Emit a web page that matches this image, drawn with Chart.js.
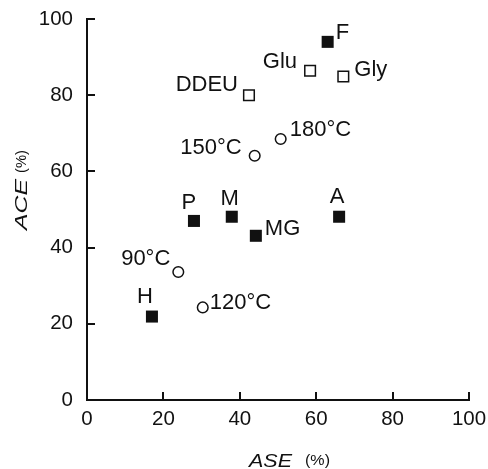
<!DOCTYPE html>
<html>
<head>
<meta charset="utf-8">
<script src="https://cdn.jsdelivr.net/npm/chart.js@4"></script>
<style>
html, body { margin: 0; padding: 0; background: #fff; }
#wrap { width: 488px; height: 469px; }
</style>
</head>
<body>
<div id="wrap"><canvas id="chart"></canvas></div>
<script>
// reagents / treatments, ASE (x) and ACE (y) in %
const filledNames = ['F', 'P', 'M', 'MG', 'A', 'H'];
const filledASE = [63.0, 28.0, 37.9, 44.2, 66.0, 17.0];
const filledACE = [94.0, 47.0, 48.1, 43.1, 48.1, 21.9];

const openNames = ['Glu', 'Gly', 'DDEU'];
const openASE = [58.4, 67.1, 42.4];
const openACE = [86.4, 84.9, 80.0];

const tempNames = ['90°C', '120°C', '150°C', '180°C'];
const tempASE = [23.9, 30.3, 43.9, 50.7];
const tempACE = [33.6, 24.3, 64.1, 68.5];

const axisTicks = [0, 20, 40, 60, 80, 100];

// where each point label sits relative to its marker: [align, dx, dy]
const labelPlace = {
    'F': ['left', 8, -9], 'P': ['center', -5, -18], 'M': ['center', -2, -18],
    'MG': ['left', 9, -7], 'A': ['center', -2, -20], 'H': ['center', -7, -20],
    'Glu': ['right', -13, -9], 'Gly': ['left', 11, -7], 'DDEU': ['right', -11, -10],
    '90°C': ['right', -8, -13], '120°C': ['left', 7, -4],
    '150°C': ['right', -13, -8], '180°C': ['left', 9, -9],
};

const ink = '#111';
const fontName = '"Liberation Sans", Arial, sans-serif';

function toPoints(xs, ys) {
    return xs.map((x, i) => ({ x: x, y: ys[i] }));
}

// text squeezed/stretched to a given width
function fitText(ctx, text, x, y, width) {
    const w = ctx.measureText(text).width;
    ctx.save();
    ctx.translate(x, y);
    ctx.scale(width / w, 1);
    ctx.fillText(text, 0, 0);
    ctx.restore();
}

const extras = {
    id: 'extras',
    afterDraw(chart) {
        const ctx = chart.ctx;
        const xs = chart.scales.x, ys = chart.scales.y;
        const area = chart.chartArea;
        ctx.save();
        // inward tick marks
        ctx.strokeStyle = ink;
        ctx.lineWidth = 2;
        ctx.beginPath();
        axisTicks.forEach(v => {
            const px = Math.round(xs.getPixelForValue(v));
            ctx.moveTo(px, area.bottom);
            ctx.lineTo(px, area.bottom - 8);
            const py = Math.round(ys.getPixelForValue(v));
            ctx.moveTo(area.left, py);
            ctx.lineTo(area.left + 8, py);
        });
        ctx.stroke();

        // point labels
        ctx.fillStyle = ink;
        ctx.font = '22px ' + fontName;
        ctx.textBaseline = 'middle';
        chart.data.datasets.forEach((ds, di) => {
            const meta = chart.getDatasetMeta(di);
            ds.names.forEach((name, i) => {
                const el = meta.data[i];
                const p = labelPlace[name];
                ctx.textAlign = p[0];
                ctx.fillText(name, el.x + p[1], el.y + p[2]);
            });
        });

        // axis titles
        ctx.textAlign = 'left';
        ctx.textBaseline = 'alphabetic';
        ctx.font = 'italic 18px ' + fontName;
        fitText(ctx, 'ASE', 249, 467, 43);
        ctx.font = '15px ' + fontName;
        fitText(ctx, '(%)', 305, 465, 25);

        ctx.translate(27, 0);
        ctx.rotate(-Math.PI / 2);
        ctx.font = 'italic 17px ' + fontName;
        fitText(ctx, 'ACE', -230, 0, 51);
        ctx.font = '15px ' + fontName;
        fitText(ctx, '(%)', -173, -1, 23);
        ctx.restore();
    }
};

const ctx = document.getElementById('chart').getContext('2d');

new Chart(ctx, {
    type: 'scatter',
    data: {
        datasets: [
            {
                names: filledNames,
                data: toPoints(filledASE, filledACE),
                pointStyle: 'rect',
                radius: 8.5,
                backgroundColor: ink,
                borderColor: ink,
                borderWidth: 0,
            },
            {
                names: openNames,
                data: toPoints(openASE, openACE),
                pointStyle: 'rect',
                radius: 7.5,
                backgroundColor: '#fff',
                borderColor: ink,
                borderWidth: 1.5,
            },
            {
                names: tempNames,
                data: toPoints(tempASE, tempACE),
                pointStyle: 'circle',
                radius: 5.3,
                backgroundColor: '#fff',
                borderColor: ink,
                borderWidth: 1.5,
            },
        ],
    },
    options: {
        responsive: true,
        maintainAspectRatio: false,
        animation: false,
        layout: { padding: { top: 19, right: 19, left: 0, bottom: 0 } },
        scales: {
            x: {
                min: 0, max: 100,
                afterFit(scale) {
                    scale.height = 69;
                    scale.paddingLeft = 0;
                    scale.paddingRight = 0;
                },
                ticks: { stepSize: 20, color: ink, padding: 7, maxRotation: 0, font: { family: fontName, size: 20.5 } },
                grid: { display: false, drawTicks: false },
                border: { display: true, color: ink, width: 2 },
            },
            y: {
                min: 0, max: 100,
                afterFit(scale) {
                    scale.width = 87;
                    scale.paddingTop = 0;
                    scale.paddingBottom = 0;
                },
                ticks: { stepSize: 20, color: ink, padding: 14, font: { family: fontName, size: 20.5 } },
                grid: { display: false, drawTicks: false },
                border: { display: true, color: ink, width: 2 },
            },
        },
        plugins: {
            legend: { display: false },
            tooltip: { enabled: false },
        },
    },
    plugins: [extras],
});
</script>
</body>
</html>
